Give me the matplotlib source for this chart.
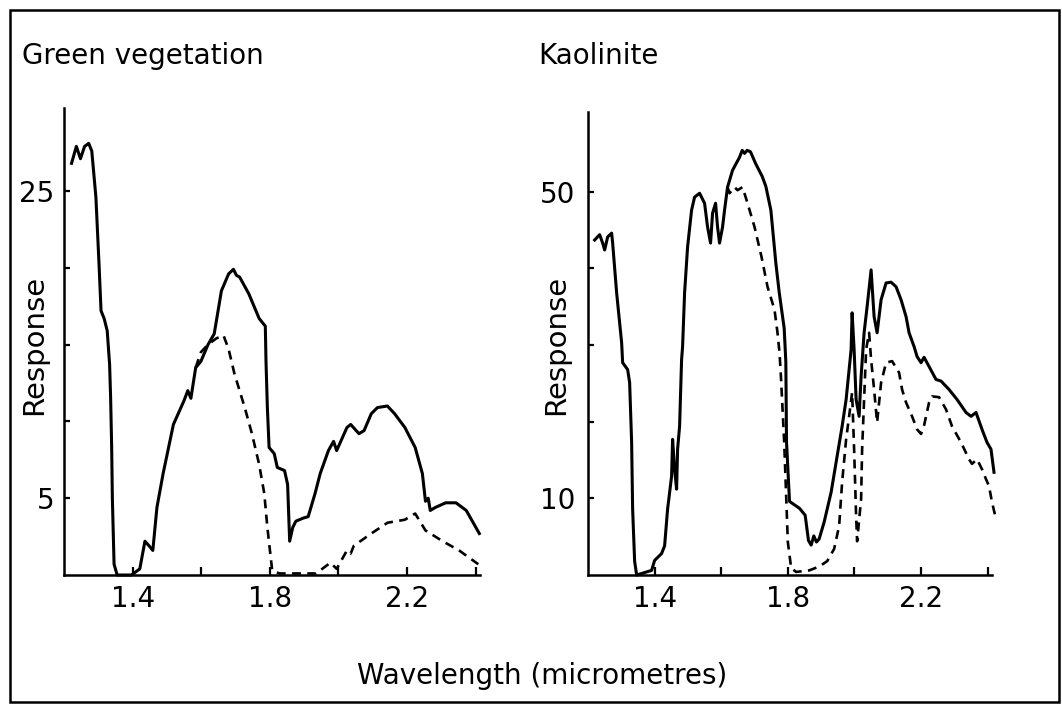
import matplotlib
matplotlib.use("Agg")
import matplotlib.pyplot as plt
from matplotlib.patches import Rectangle

plt.rcParams['font.family'] = ['DejaVu Sans']

# Green vegetation, solid curve
gv_x = [1.222, 1.236, 1.248, 1.260, 1.272, 1.281, 1.293, 1.302, 1.308, 1.317, 1.326, 1.333,
        1.336, 1.339, 1.341, 1.346, 1.355, 1.397, 1.421, 1.436, 1.448, 1.459, 1.471, 1.489,
        1.519, 1.549, 1.561, 1.570, 1.584, 1.599, 1.620, 1.638, 1.659, 1.680, 1.694, 1.703,
        1.712, 1.739, 1.769, 1.787, 1.789, 1.793, 1.798, 1.813, 1.822, 1.843, 1.852, 1.858,
        1.867, 1.876, 1.897, 1.912, 1.932, 1.947, 1.971, 1.986, 1.995, 2.025, 2.036, 2.060,
        2.075, 2.096, 2.114, 2.143, 2.164, 2.194, 2.224, 2.245, 2.254, 2.262, 2.268, 2.283,
        2.313, 2.343, 2.373, 2.411]
gv_y = [26.8, 27.9, 27.1, 27.9, 28.1, 27.6, 24.6, 20.3, 17.2, 16.7, 15.9, 13.7,
        11.5, 8.3, 5.0, 0.7, 0.0, 0.0, 0.4, 2.2, 1.9, 1.6, 4.4, 6.6,
        9.8, 11.3, 12.0, 11.5, 13.5, 13.9, 15.0, 15.7, 18.5, 19.6, 19.9, 19.5,
        19.4, 18.3, 16.7, 16.2, 13.9, 10.9, 8.3, 7.9, 7.0, 6.8, 5.9, 2.2,
        3.1, 3.5, 3.7, 3.8, 5.3, 6.6, 8.1, 8.7, 8.1, 9.6, 9.8, 9.2,
        9.4, 10.5, 10.9, 11.0, 10.5, 9.6, 8.3, 6.6, 4.8, 5.0, 4.2, 4.4,
        4.7, 4.7, 4.2, 2.7]

# Green vegetation, dashed curve
gv_dash_x = [1.584, 1.599, 1.620, 1.644, 1.665, 1.680, 1.697, 1.727, 1.748, 1.769, 1.784,
             1.793, 1.807, 1.828, 1.935, 1.977, 1.995, 2.025, 2.036, 2.045, 2.096, 2.143,
             2.194, 2.224, 2.254, 2.304, 2.352, 2.408]
gv_dash_y = [13.5, 14.5, 15.0, 15.4, 15.6, 14.7, 13.1, 10.9, 9.2, 7.2, 5.3,
             3.1, 0.3, 0.1, 0.1, 0.8, 0.4, 1.6, 1.4, 1.9, 2.7, 3.4,
             3.6, 4.0, 2.9, 2.2, 1.6, 0.7]

# Kaolinite, solid curve
ka_x = [1.220, 1.235, 1.244, 1.250, 1.259, 1.271, 1.274, 1.286, 1.301, 1.304, 1.319, 1.325,
        1.331, 1.334, 1.340, 1.346, 1.391, 1.400, 1.421, 1.430, 1.439, 1.451, 1.454, 1.460,
        1.466, 1.469, 1.475, 1.481, 1.484, 1.490, 1.499, 1.511, 1.520, 1.535, 1.550, 1.559,
        1.568, 1.574, 1.583, 1.589, 1.595, 1.604, 1.610, 1.619, 1.634, 1.655, 1.663, 1.670,
        1.678, 1.688, 1.703, 1.723, 1.734, 1.749, 1.764, 1.774, 1.789, 1.794, 1.796, 1.805,
        1.835, 1.852, 1.862, 1.870, 1.878, 1.886, 1.894, 1.909, 1.930, 1.948, 1.963, 1.975,
        1.984, 1.990, 1.993, 1.999, 2.005, 2.014, 2.020, 2.029, 2.038, 2.050, 2.059, 2.068,
        2.080, 2.095, 2.110, 2.125, 2.140, 2.155, 2.164, 2.179, 2.188, 2.200, 2.209, 2.224,
        2.245, 2.260, 2.284, 2.308, 2.335, 2.350, 2.365, 2.383, 2.398, 2.410, 2.419]
ka_y = [43.7, 44.4, 43.3, 42.4, 44.1, 44.6, 43.3, 36.8, 30.3, 27.7, 26.8, 25.1,
        17.3, 8.6, 1.8, 0.0, 0.6, 1.9, 2.8, 3.8, 8.6, 12.9, 17.7, 13.8,
        11.2, 16.4, 19.4, 28.1, 29.8, 36.8, 42.8, 47.6, 49.3, 49.8, 48.5, 45.4,
        43.3, 47.2, 48.5, 45.4, 43.3, 45.4, 47.6, 50.6, 52.8, 54.5, 55.4, 55.0,
        55.4, 55.2, 53.7, 52.0, 50.7, 47.6, 40.7, 36.9, 32.2, 27.8, 17.4, 9.6,
        8.7, 7.8, 4.5, 3.9, 5.1, 4.3, 4.7, 6.9, 10.8, 15.5, 19.4, 22.9,
        26.8, 29.4, 34.2, 29.4, 22.9, 20.7, 25.9, 31.6, 35.0, 39.8, 33.7, 31.6,
        35.9, 38.1, 38.2, 37.6, 35.9, 33.7, 31.6, 29.8, 28.5, 27.7, 28.4, 27.2,
        25.5, 25.3, 24.2, 22.9, 21.2, 20.7, 21.2, 19.0, 17.3, 16.4, 13.4]

# Kaolinite, dashed curve
ka_dash_x = [1.619, 1.625, 1.640, 1.649, 1.664, 1.679, 1.700, 1.721, 1.739, 1.760, 1.769,
             1.775, 1.779, 1.789, 1.800, 1.810, 1.825, 1.864, 1.894, 1.918, 1.939, 1.954,
             1.963, 1.975, 1.984, 1.993, 1.999, 2.005, 2.008, 2.020, 2.023, 2.029, 2.035,
             2.044, 2.050, 2.059, 2.068, 2.080, 2.095, 2.113, 2.134, 2.143, 2.155, 2.173,
             2.188, 2.200, 2.209, 2.224, 2.233, 2.254, 2.275, 2.293, 2.320, 2.344, 2.353,
             2.368, 2.383, 2.395, 2.404, 2.413, 2.425]
ka_dash_y = [50.6, 49.8, 50.6, 50.2, 50.6, 48.5, 45.4, 41.5, 37.6, 34.6, 31.6,
             29.0, 26.1, 17.4, 4.3, 0.9, 0.4, 0.6, 1.1, 1.8, 3.4, 6.4,
             12.1, 17.7, 20.7, 23.8, 16.4, 7.7, 4.4, 9.9, 16.4, 22.9, 29.4,
             31.6, 28.1, 24.2, 19.9, 25.1, 27.7, 27.9, 26.4, 24.2, 22.5, 20.7,
             19.0, 18.4, 19.5, 22.5, 23.3, 23.2, 21.6, 19.4, 17.3, 15.1, 14.5,
             15.1, 13.8, 12.5, 11.6, 9.5, 7.3]

x_ticks = [1.4, 1.6, 1.8, 2.0, 2.2, 2.4]
x_labels = ['1.4', '', '1.8', '', '2.2', '']
gv_ticks = [5, 10, 15, 20, 25]
gv_labels = ['5', '', '', '', '25']
ka_ticks = [10, 20, 30, 40, 50]
ka_labels = ['10', '', '', '', '50']

W, H = 1062, 705
fig = plt.figure(figsize=(W / 100, H / 100), dpi=100)

ax1 = fig.add_axes([64 / W, 1 - 575 / H, 416 / W, 467 / H])
ax2 = fig.add_axes([588 / W, 1 - 575 / H, 404 / W, 463 / H])

panels = [
    (ax1, gv_x, gv_y, gv_dash_x, gv_dash_y, gv_ticks, gv_labels, 30.4, 7),
    (ax2, ka_x, ka_y, ka_dash_x, ka_dash_y, ka_ticks, ka_labels, 60.4, 9),
]
for ax, xs, ys, dx, dy, yt, yl, ytop, ypad in panels:
    ax.plot(xs, ys, color='black', lw=2.2, clip_on=False, solid_joinstyle='round')
    ax.plot(dx, dy, color='black', lw=1.9, dashes=(3.4, 2.4), clip_on=False)
    ax.set_xlim(1.2, 2.413)
    ax.set_ylim(0, ytop)
    ax.set_xticks(x_ticks)
    ax.set_xticklabels(x_labels)
    ax.set_yticks(yt)
    ax.set_yticklabels(yl)
    ax.spines['top'].set_visible(False)
    ax.spines['right'].set_visible(False)
    for s in ['left', 'bottom']:
        ax.spines[s].set_linewidth(1.8)
    ax.tick_params(axis='x', direction='in', length=6, width=1.6, pad=7, labelsize=20)
    ax.tick_params(axis='y', direction='in', length=4, width=1.6, pad=ypad, labelsize=20)
    ax.patch.set_visible(False)

fig.text(22 / W, 1 - 64 / H, 'Green vegetation', fontsize=20, ha='left', va='baseline')
fig.text(538 / W, 1 - 64 / H, 'Kaolinite', fontsize=20, ha='left', va='baseline')
fig.text(34 / W, 1 - 345 / H, 'Response', fontsize=21, rotation=90, ha='center', va='center')
fig.text(556 / W, 1 - 345 / H, 'Response', fontsize=21, rotation=90, ha='center', va='center')
fig.text(542 / W, 1 - 684 / H, 'Wavelength (micrometres)', fontsize=20, ha='center', va='baseline')

fig.add_artist(Rectangle((10 / W, 3 / H), (1059 - 10) / W, (702 - 10) / H,
                         transform=fig.transFigure, fill=False, lw=1.8, color='black'))

fig.savefig('out.png', dpi=100)
